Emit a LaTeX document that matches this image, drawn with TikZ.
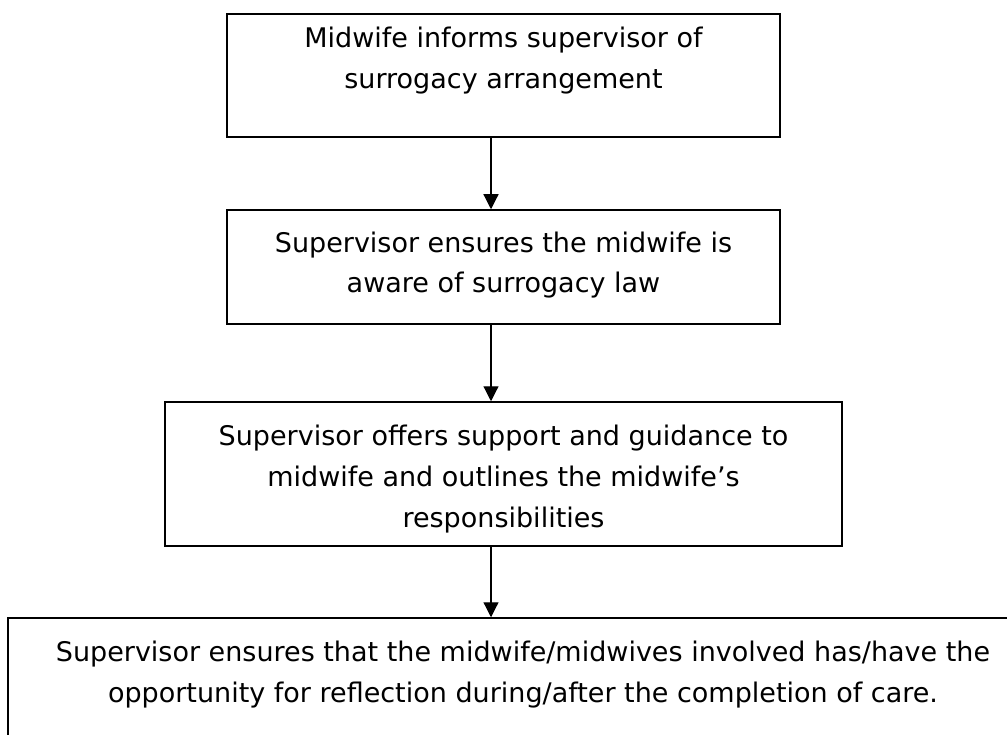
\documentclass[tikz,border=0pt]{standalone}
\usepackage{fontspec}
\setmainfont{DejaVu Sans}
\usetikzlibrary{arrows.meta}
\begin{document}
\begin{tikzpicture}[x=1pt,y=-1pt,
  box/.style={draw=black, line width=1.5pt, fill=white, inner sep=0pt, rectangle},
  txt/.style={inner sep=0pt, anchor=base, font=\fontsize{27}{41}\selectfont},
  conn/.style={draw=black, line width=1.2pt, -{Triangle[length=15pt,width=15pt]}}]
\useasboundingbox (0,0) rectangle (1007,735);
\clip (0,0) rectangle (1007,735);
% boxes
\node[box, minimum width=553pt, minimum height=123pt] (b1) at (503.5,75.5) {};
\node[box, minimum width=553pt, minimum height=114pt] (b2) at (503.5,267) {};
\node[box, minimum width=677pt, minimum height=144pt] (b3) at (503.5,474) {};
\node[box, minimum width=1034pt, minimum height=164pt] (b4) at (525,700) {};
% texts
\node[txt] (t1a) at (503.5,48) {Midwife informs supervisor of};
\node[txt] (t1b) at (503.5,89) {surrogacy arrangement};
\node[txt] (t2a) at (503.5,253) {Supervisor ensures the midwife is};
\node[txt] (t2b) at (503.5,293) {aware of surrogacy law};
\node[txt] (t3a) at (503.5,445) {Supervisor offers support and guidance to};
\node[txt] (t3b) at (503.5,486) {midwife and outlines the midwife’s};
\node[txt] (t3c) at (503.5,527) {responsibilities};
\node[txt] (t4a) at (523,661) {Supervisor ensures that the midwife/midwives involved has/have the};
\node[txt] (t4b) at (523,702) {opportunity for reflection during/after the completion of care.};
% connectors
\coordinate (ax) at (491,0);
\draw[conn] (b1.south -| ax) -- (b2.north -| ax);
\draw[conn] (b2.south -| ax) -- (b3.north -| ax);
\draw[conn] (b3.south -| ax) -- (b4.north -| ax);
\end{tikzpicture}
\end{document}
